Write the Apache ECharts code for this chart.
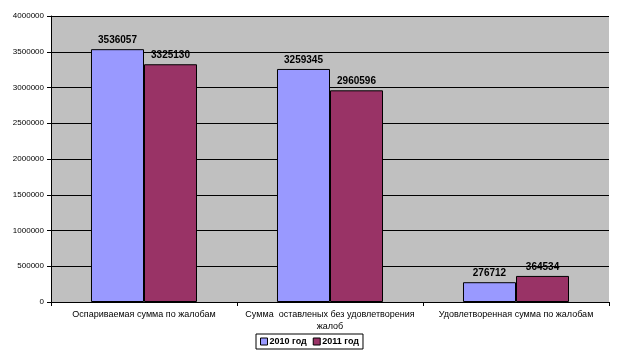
<!DOCTYPE html>
<html><head><meta charset="utf-8">
<script src="https://cdn.jsdelivr.net/npm/echarts@6/dist/echarts.min.js"></script>
<style>html,body{margin:0;padding:0;background:#fff}#c{width:619px;height:355px}</style>
</head><body><div id="c"></div>
<script>
const categories = ["Оспариваемая сумма по жалобам", "Сумма  оставленых без удовлетворения\nжалоб", "Удовлетворенная сумма по жалобам"];
const seriesNames = ["2010 год", "2011 год"];
const values2010 = [3536057, 3259345, 276712];
const values2011 = [3325130, 2960596, 364534];
const colors = ["#9999FF", "#993366"];

const chart = echarts.init(document.getElementById('c'), null, {renderer: 'canvas'});
const font = 'Arial, "Liberation Sans", sans-serif';
const mk = (name, data, color) => ({
  name, type: 'bar', data,
  barGap: '0%', barCategoryGap: '43%',
  itemStyle: {color, borderColor: '#000', borderWidth: 1},
  label: {show: true, position: 'top', distance: 4, color: '#000', fontFamily: font, fontSize: 10, fontWeight: 'bold'},
  emphasis: {disabled: true}
});
chart.setOption({
  animation: false,
  backgroundColor: '#fff',
  grid: {left: 51, right: 10, top: 16, bottom: 53, show: true, backgroundColor: '#C0C0C0', borderWidth: 0},
  legend: {
    bottom: 6, left: 'center', itemWidth: 7, itemHeight: 7, itemGap: 6,
    borderColor: '#000', borderWidth: 1, padding: [3, 4], borderRadius: 0,
    textStyle: {fontFamily: font, fontSize: 9, fontWeight: 'bold', color: '#000', padding: [0,0,0,-3]},
    icon: 'rect',
    data: seriesNames.map(n => ({name: n, itemStyle: {borderColor: '#000', borderWidth: 1}}))
  },
  xAxis: {
    type: 'category', data: categories,
    axisLine: {lineStyle: {color: '#000', width: 1}},
    axisTick: {show: true, length: 4, lineStyle: {color: '#000'}},
    axisLabel: {color: '#000', fontFamily: font, fontSize: 9, margin: 7, interval: 0, lineHeight: 12}
  },
  yAxis: {
    type: 'value', min: 0, max: 4000000, interval: 500000,
    axisLine: {show: true, lineStyle: {color: '#000', width: 1}},
    axisTick: {show: true, length: 4, lineStyle: {color: '#000'}},
    axisLabel: {color: '#000', fontFamily: font, fontSize: 8, margin: 7, formatter: v => String(v)},
    splitLine: {show: true, lineStyle: {color: '#000', width: 1}}
  },
  series: [mk(seriesNames[0], values2010, colors[0]), mk(seriesNames[1], values2011, colors[1])]
});
</script></body></html>
